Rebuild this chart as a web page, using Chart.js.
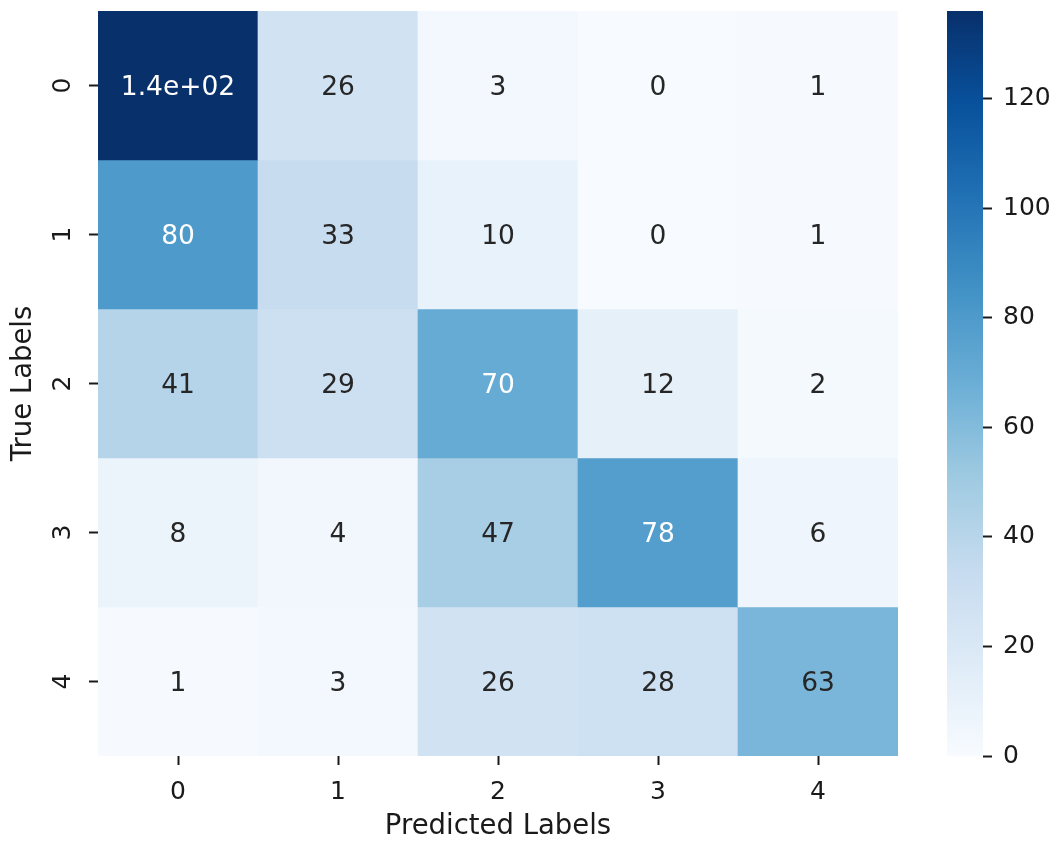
<!DOCTYPE html>
<html>
<head>
<meta charset="utf-8">
<title>Confusion matrix</title>
<script src="https://cdn.jsdelivr.net/npm/chart.js@4.4.1/dist/chart.umd.min.js"></script>
<style>
  html, body { margin: 0; padding: 0; background: #fff; }
  #wrap { position: relative; width: 1062px; height: 843px; }
  #chart-matriz { position: absolute; left: 0; top: 0; }
  #chart-barra { position: absolute; left: 900px; top: 0; }
</style>
</head>
<body>
<div id="wrap">
  <canvas id="chart-matriz" width="920" height="843"></canvas>
  <canvas id="chart-barra" width="162" height="843"></canvas>
</div>
<script>
/*
  ==================================================
  ====================== DATOS ======================
  ==================================================
*/

const predLabels = ['0', '1', '2', '3', '4'];
const trueLabels = ['0', '1', '2', '3', '4'];

// filas = etiqueta real, columnas = etiqueta predicha
const row0 = [136, 26, 3, 0, 1];
const row1 = [80, 33, 10, 0, 1];
const row2 = [41, 29, 70, 12, 2];
const row3 = [8, 4, 47, 78, 6];
const row4 = [1, 3, 26, 28, 63];
const matrix = [row0, row1, row2, row3, row4];

const cbarTicks = [0, 20, 40, 60, 80, 100, 120];

/*
  ==================================================
  ===================== ESTILOS =====================
  ==================================================
*/

const FONT = "'DejaVu Sans'";
const INK = '#1a1a1a';
// paleta "Blues" de matplotlib
const blues = ['#f7fbff', '#deebf7', '#c6dbef', '#9ecae1', '#6baed6', '#4292c6', '#2171b5', '#08519c', '#08306b'];

let vmax = Math.max(...matrix.flat());

/** @param {string} hex */
let hexToRgb = hex => [1, 3, 5].map(i => parseInt(hex.slice(i, i + 2), 16));

/** @param {number} v @returns {number[]} */
let rgbAt = v => {
  let t = Math.min(Math.max(v / vmax, 0), 1) * (blues.length - 1);
  let i = Math.min(Math.floor(t), blues.length - 2);
  let f = t - i;
  let a = hexToRgb(blues[i]), b = hexToRgb(blues[i + 1]);
  return a.map((x, k) => x + (b[k] - x) * f);
}

/** @param {number} v */
let colorAt = v => {
  let c = rgbAt(v).map(Math.round);
  return `rgb(${c[0]}, ${c[1]}, ${c[2]})`;
}

/** @param {number} v */
let textColor = v => {
  let lin = rgbAt(v).map(x => {
    let s = x / 255;
    return s <= 0.03928 ? s / 12.92 : Math.pow((s + 0.055) / 1.055, 2.4);
  });
  let lum = 0.2126 * lin[0] + 0.7152 * lin[1] + 0.0722 * lin[2];
  return lum > 0.408 ? '#262626' : '#ffffff';
}

// formato ".2g" de python
/** @param {number} v */
let fmtG2 = v => {
  if (v === 0) return '0';
  let r = Number(v.toPrecision(2));
  let exp = Math.floor(Math.log10(Math.abs(r)));
  if (exp < -4 || exp >= 2) {
    let [m, e] = r.toExponential(1).split('e');
    m = m.replace(/\.0$/, '');
    let n = parseInt(e, 10);
    return m + 'e' + (n < 0 ? '-' : '+') + String(Math.abs(n)).padStart(2, '0');
  }
  return String(r);
}

/*
  ==================================================
  ===================== PLUGINS =====================
  ==================================================
*/

let anotaciones = {
  id: 'anotaciones',
  afterDatasetsDraw(chart) {
    let { ctx } = chart;
    ctx.save();
    ctx.font = `26.5px ${FONT}`;
    ctx.textAlign = 'center';
    ctx.textBaseline = 'middle';
    chart.data.datasets.forEach((ds, r) => {
      chart.getDatasetMeta(r).data.forEach((bar, c) => {
        let v = matrix[r][c];
        let { x, y, base } = bar.getProps(['x', 'y', 'base'], true);
        ctx.fillStyle = textColor(v);
        ctx.fillText(fmtG2(v), x, (y + base) / 2 + 3);
      });
    });
    ctx.restore();
  }
};

// sin relleno automatico alrededor del area
/** @param {any} s */
let sinPadding = s => {
  s.paddingTop = 0;
  s.paddingBottom = 0;
  s.paddingLeft = 0;
  s.paddingRight = 0;
}

/*
  ==================================================
  ===================== MATRIZ ======================
  ==================================================
*/

let tickGrid = {
  display: true,
  drawOnChartArea: false,
  drawTicks: true,
  tickLength: 9,
  tickWidth: 2,
  tickColor: INK,
  offset: false
};

new Chart(document.getElementById('chart-matriz').getContext('2d'), {
  type: 'bar',
  data: {
    labels: predLabels,
    datasets: trueLabels.map((lbl, r) => ({
      label: lbl,
      data: predLabels.map(() => [r, r + 1]),
      backgroundColor: matrix[r].map(colorAt),
      borderWidth: 0,
      barPercentage: 1,
      categoryPercentage: 1
    }))
  },
  options: {
    responsive: false,
    animation: false,
    devicePixelRatio: 1,
    layout: { autoPadding: false, padding: { left: 0, top: 11, right: 22, bottom: 0 } },
    plugins: { legend: { display: false }, tooltip: { enabled: false } },
    datasets: { bar: { grouped: false } },
    scales: {
      x: {
        type: 'category',
        offset: true,
        grid: tickGrid,
        border: { display: false },
        ticks: { color: INK, font: { family: FONT, size: 25 }, padding: 12, maxRotation: 0 },
        title: {
          display: true, text: 'Predicted Labels', color: INK,
          font: { family: FONT, size: 27.5, lineHeight: 1.2 }, padding: { top: 0, bottom: 0 }
        },
        afterFit: s => { s.height = 87; sinPadding(s); }
      },
      y: {
        type: 'linear',
        min: 0,
        max: trueLabels.length,
        reverse: true,
        afterBuildTicks: s => { s.ticks = trueLabels.map((l, i) => ({ value: i + 0.5 })); },
        grid: tickGrid,
        border: { display: false },
        ticks: {
          color: INK, font: { family: FONT, size: 25 },
          minRotation: 90, maxRotation: 90, crossAlign: 'center', padding: 18,
          callback: (v, i) => trueLabels[i]
        },
        title: {
          display: true, text: 'True Labels', color: INK,
          font: { family: FONT, size: 27.5, lineHeight: 1.2 }, padding: { top: 7, bottom: 0 }
        },
        afterFit: s => { s.width = 98; sinPadding(s); }
      }
    }
  },
  plugins: [anotaciones]
});

/*
  ==================================================
  =================== COLOR BAR ====================
  ==================================================
*/

new Chart(document.getElementById('chart-barra').getContext('2d'), {
  type: 'bar',
  data: {
    labels: [''],
    datasets: [{
      data: [[0, vmax]],
      borderWidth: 0,
      barPercentage: 1,
      categoryPercentage: 1,
      backgroundColor: c => {
        let { chart } = c;
        if (!chart.chartArea) return blues[0];
        let y0 = chart.scales.y.getPixelForValue(0);
        let y1 = chart.scales.y.getPixelForValue(vmax);
        let g = chart.ctx.createLinearGradient(0, y0, 0, y1);
        blues.forEach((col, i) => g.addColorStop(i / (blues.length - 1), col));
        return g;
      }
    }]
  },
  options: {
    responsive: false,
    animation: false,
    devicePixelRatio: 1,
    layout: { autoPadding: false, padding: { left: 47, top: 11, right: 0, bottom: 87 } },
    plugins: { legend: { display: false }, tooltip: { enabled: false } },
    scales: {
      x: { display: false, offset: true },
      y: {
        position: 'right',
        min: 0,
        max: vmax,
        afterBuildTicks: s => { s.ticks = cbarTicks.map(v => ({ value: v })); },
        grid: { ...tickGrid },
        border: { display: false },
        ticks: { color: INK, font: { family: FONT, size: 25 }, padding: 11 },
        afterFit: s => { s.width = 79; sinPadding(s); }
      }
    }
  }
});
</script>
</body>
</html>
